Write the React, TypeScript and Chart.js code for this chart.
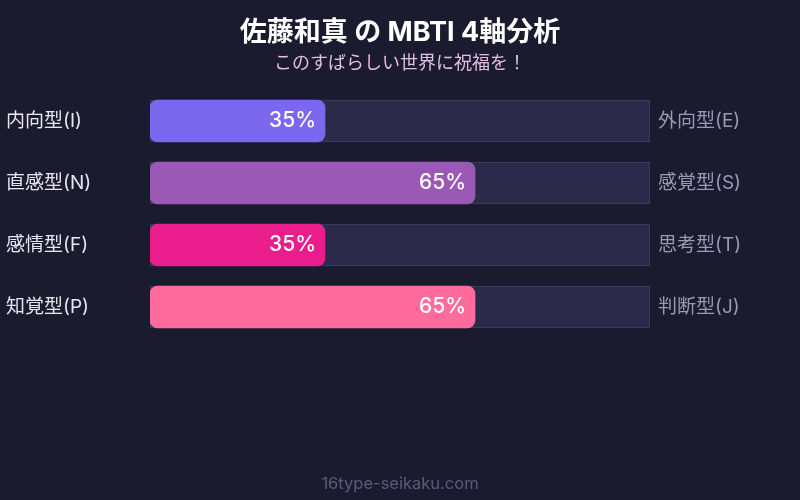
import React, { useEffect, useRef } from "react";
import { Chart, registerables } from "chart.js";

Chart.register(...registerables);

const leftLabels = ["内向型(I)", "直感型(N)", "感情型(F)", "知覚型(P)"];
const rightLabels = ["外向型(E)", "感覚型(S)", "思考型(T)", "判断型(J)"];
const values = [35, 65, 35, 65];
const trackValues = [100, 100, 100, 100];
const barColors = ["#7B68EE", "#9B59B6", "#E91E8C", "#FF6B9D"];
const titleText = "佐藤和真 の MBTI 4軸分析";
const subtitleText = "このすばらしい世界に祝福を！";
const footerText = "16type-seikaku.com";

const FONT = "Inter, 'Noto Sans CJK JP', sans-serif";

const textPlugin = {
  id: "textPlugin",
  afterDatasetsDraw(chart: any) {
    const ctx = chart.ctx;
    const x = chart.scales.x;
    const y = chart.scales.y;
    ctx.save();
    ctx.textBaseline = "middle";
    leftLabels.forEach((lab, i) => {
      const py = y.getPixelForValue(i);
      ctx.font = `19px ${FONT}`;
      ctx.fillStyle = "#E6E6F0";
      ctx.textAlign = "left";
      ctx.fillText(lab, 6, py);
      ctx.fillStyle = "#9A9AB0";
      ctx.fillText(rightLabels[i], x.getPixelForValue(100) + 8, py);
      ctx.font = `500 21px ${FONT}`;
      ctx.fillStyle = "#FFFFFF";
      ctx.textAlign = "right";
      ctx.fillText(`${values[i]}%`, x.getPixelForValue(values[i]) - 9, py);
    });
    ctx.textAlign = "center";
    ctx.font = `bold 27px ${FONT}`;
    ctx.fillStyle = "#FFFFFF";
    ctx.fillText(titleText, 400, 33);
    ctx.font = `18px ${FONT}`;
    ctx.fillStyle = "#E2BEE2";
    ctx.fillText(subtitleText, 400, 64);
    ctx.font = `16.5px ${FONT}`;
    ctx.fillStyle = "#5C5C7A";
    ctx.fillText(footerText, 400, 484);
    ctx.restore();
  },
};

const bgPlugin = {
  id: "bgPlugin",
  beforeDraw(chart: any) {
    const ctx = chart.ctx;
    ctx.save();
    ctx.fillStyle = "#1A1B2E";
    ctx.fillRect(0, 0, chart.width, chart.height);
    ctx.restore();
  },
};

export default function App() {
  const ref = useRef<HTMLCanvasElement>(null);
  useEffect(() => {
    const chart = new Chart(ref.current as HTMLCanvasElement, {
      type: "bar",
      data: {
        labels: leftLabels,
        datasets: [
          {
            data: values,
            backgroundColor: barColors,
            borderRadius: 8,
            borderSkipped: false,
            barThickness: 42,
            grouped: false,
          } as any,
          {
            data: trackValues,
            backgroundColor: "#2C2A4A",
            borderColor: "#414066",
            borderWidth: 1,
            borderSkipped: false,
            barThickness: 42,
            grouped: false,
          } as any,
        ],
      },
      options: {
        indexAxis: "y",
        responsive: false,
        animation: false,
        layout: { padding: { left: 150, right: 150, top: 90, bottom: 162 } },
        plugins: { legend: { display: false }, tooltip: { enabled: false } },
        scales: {
          x: { min: 0, max: 100, display: false },
          y: { display: false },
        },
      },
      plugins: [bgPlugin, textPlugin],
    });
    return () => chart.destroy();
  }, []);
  return (
    <div style={{ position: "fixed", left: 0, top: 0, width: 800, height: 500, background: "#1A1B2E" }}>
      <canvas ref={ref} width={800} height={500} />
    </div>
  );
}
